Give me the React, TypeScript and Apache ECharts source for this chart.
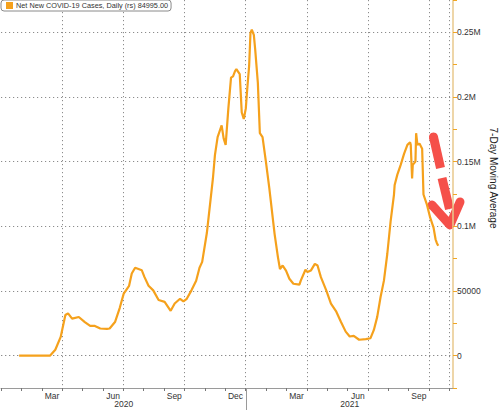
import React, { useEffect, useRef } from 'react';
import * as echarts from 'echarts';

const seriesName = 'Net New COVID-19 Cases, Daily (rs)';
const lastValueText = '84995.00';
const yAxisTitle = '7-Day Moving Average';

const dates = [
  '2020-01-28', '2020-03-14', '2020-03-22', '2020-03-30', '2020-04-06', '2020-04-10', '2020-04-16', '2020-04-26',
  '2020-05-05', '2020-05-13', '2020-05-20', '2020-05-28', '2020-06-07', '2020-06-11', '2020-06-19', '2020-06-26',
  '2020-07-02', '2020-07-10', '2020-07-14', '2020-07-19', '2020-07-29', '2020-08-02', '2020-08-08', '2020-08-15',
  '2020-08-23', '2020-09-01', '2020-09-10', '2020-09-16', '2020-09-24', '2020-09-29', '2020-10-04', '2020-10-11',
  '2020-10-18', '2020-10-23', '2020-10-27', '2020-11-03', '2020-11-12', '2020-11-15', '2020-11-19', '2020-11-25',
  '2020-11-28', '2020-12-01', '2020-12-05', '2020-12-09', '2020-12-12', '2020-12-15', '2020-12-17', '2020-12-22',
  '2020-12-25', '2020-12-28', '2020-12-31', '2021-01-02', '2021-01-05', '2021-01-07', '2021-01-09', '2021-01-12',
  '2021-01-14', '2021-01-18', '2021-01-21', '2021-01-25', '2021-01-30', '2021-02-04', '2021-02-12', '2021-02-17',
  '2021-02-20', '2021-02-24', '2021-03-01', '2021-03-06', '2021-03-12', '2021-03-21', '2021-03-23', '2021-03-30',
  '2021-04-02', '2021-04-07', '2021-04-13', '2021-04-17', '2021-04-22', '2021-04-30', '2021-05-07', '2021-05-15',
  '2021-05-22', '2021-05-29', '2021-06-04', '2021-06-10', '2021-06-18', '2021-06-28', '2021-07-05', '2021-07-10',
  '2021-07-15', '2021-07-20', '2021-07-25', '2021-07-30', '2021-08-04', '2021-08-09', '2021-08-10', '2021-08-14',
  '2021-08-19', '2021-08-24', '2021-08-29', '2021-09-02', '2021-09-03', '2021-09-05', '2021-09-06', '2021-09-10',
  '2021-09-11', '2021-09-13', '2021-09-16', '2021-09-20', '2021-09-22', '2021-09-27', '2021-10-02', '2021-10-07',
  '2021-10-10', '2021-10-12', '2021-10-14',
];

const values = [
  0, 0, 4600, 14500, 31400, 32700, 28600, 29900,
  26000, 23000, 23000, 21000, 20700, 21000, 26000, 36800,
  48000, 54000, 63500, 68000, 66000, 60700, 54000, 50500,
  43000, 41600, 34700, 40300, 44000, 42000, 44000, 50500,
  58000, 68000, 72500, 95000, 137000, 155000, 169000, 178000,
  168000, 163000, 191000, 215000, 216000, 220000, 221500, 217700,
  188000, 183000, 191000, 205000, 224000, 249600, 252000, 248000,
  237000, 211000, 172000, 169000, 150000, 130000, 94000, 76000,
  67000, 69700, 65800, 59500, 55600, 54900, 58000, 66400,
  64600, 65800, 71000, 69700, 60700, 50500, 40300, 34000,
  26000, 18600, 14800, 15300, 12300, 12800, 13500, 19900,
  30000, 45400, 58000, 78600, 104000, 124600, 132000, 140000,
  147500, 156000, 163000, 165000, 163000, 137000, 147500, 150000,
  172000, 163000, 164000, 160000, 124600, 117000, 106700, 99000,
  90000, 87000, 84995,
];

const monthCategories = [
  'Jan 2020', 'Feb 2020', 'Mar 2020', 'Apr 2020', 'May 2020', 'Jun 2020',
  'Jul 2020', 'Aug 2020', 'Sep 2020', 'Oct 2020', 'Nov 2020', 'Dec 2020',
  'Jan 2021', 'Feb 2021', 'Mar 2021', 'Apr 2021', 'May 2021', 'Jun 2021',
  'Jul 2021', 'Aug 2021', 'Sep 2021', 'Oct 2021',
];
const labelMonths = ['Mar', 'Jun', 'Sep', 'Dec'];
const gridMonths = ['Jan', 'Apr', 'Jul', 'Oct'];
const years = ['2020', '2021'];
const yearStarts = ['2020-01-01', '2021-01-01'];
const xMin = '2020-01-01';
const xMax = '2021-11-05';

const yMin = -25000;
const yMax = 275000;
const gridLow = 0;
const gridHigh = 250000;
const gridStep = 50000;
const yTickLabels: Record<string, string> = {
  '0': '0', '50000': '50000', '100000': '0.1M', '150000': '0.15M', '200000': '0.2M', '250000': '0.25M',
};

const FONT = 'Liberation Sans';
const LINE_COLOR = '#f5a11c';
const RED = '#f5504a';
const DOT = { color: '#8c8c8c', type: [1.2, 2.8], width: 1 };

function buildOption(gridTop: number, gridBottom: number): any {
  return {
    animation: false,
    backgroundColor: '#ffffff',
    textStyle: { fontFamily: FONT },
    legend: {
      data: [seriesName],
      left: 1,
      top: 0,
      padding: [2, 3, 2, 5],
      itemWidth: 7,
      itemHeight: 7,
      icon: 'rect',
      backgroundColor: '#ffffff',
      borderColor: '#8a8a8a',
      borderWidth: 1,
      borderRadius: 3,
      formatter: (name: string) => `${name} ${lastValueText}`,
      textStyle: { fontFamily: FONT, fontSize: 7.3, color: '#333', padding: [0, 0, 0, -2] },
    },
    grid: [
      { left: 1, right: 47, top: 0, bottom: 22, containLabel: false },
      { left: 1, right: 50.5, top: 0, bottom: 22, containLabel: false },
      { left: 1, right: 47, top: gridTop, bottom: gridBottom, containLabel: false },
    ],
    xAxis: [
      {
        type: 'time',
        gridIndex: 0,
        min: xMin,
        max: xMax,
        axisLine: { show: true, onZero: false, lineStyle: { color: '#9a9a9a', width: 1 } },
        axisTick: { show: false },
        axisLabel: { show: false },
        splitLine: { show: false },
      },
      {
        type: 'category',
        gridIndex: 1,
        data: monthCategories,
        boundaryGap: true,
        axisLine: { show: false, onZero: false },
        axisTick: { show: true, interval: 0, length: 3, lineStyle: { color: '#777', width: 1 } },
        axisLabel: {
          interval: (_i: number, v: string) => labelMonths.includes(v.slice(0, 3)),
          formatter: (v: string) => v.slice(0, 3),
          margin: 3,
          fontFamily: FONT,
          fontSize: 8.5,
          color: '#333',
        },
        splitLine: {
          show: true,
          interval: (i: number, v: string) => i > 0 && gridMonths.includes(v.slice(0, 3)),
          lineStyle: DOT,
        },
      },
      { type: 'value', gridIndex: 2, show: false, min: 0, max: 1 },
    ],
    yAxis: [
      {
        type: 'value',
        gridIndex: 0,
        position: 'right',
        min: yMin,
        max: yMax,
        interval: 25000,
        axisLine: { show: true, onZero: false, lineStyle: { color: '#e8c98c', width: 1.5 } },
        axisTick: { show: true, inside: false, length: 4, lineStyle: { color: '#f0a623', width: 1 } },
        axisLabel: {
          margin: 4,
          fontFamily: FONT,
          fontSize: 8.5,
          color: '#333',
          formatter: (v: number) => yTickLabels[String(v)] ?? '',
        },
        splitLine: { show: false },
      },
      { type: 'value', gridIndex: 1, show: false, min: 0, max: 1 },
      {
        type: 'value',
        gridIndex: 2,
        min: gridLow,
        max: gridHigh,
        interval: gridStep,
        axisLine: { show: false, onZero: false },
        axisTick: { show: false },
        axisLabel: { show: false },
        splitLine: { show: true, showMinLine: true, showMaxLine: true, lineStyle: DOT },
      },
    ],
    series: [
      {
        name: seriesName,
        type: 'line',
        xAxisIndex: 0,
        yAxisIndex: 0,
        showSymbol: false,
        symbol: 'none',
        z: 3,
        data: dates.map((d, i) => [d, values[i]]),
        itemStyle: { color: LINE_COLOR },
        lineStyle: { color: LINE_COLOR, width: 2.2 },
        markLine: {
          silent: true,
          z: 1,
          symbol: ['none', 'none'],
          label: { show: false },
          lineStyle: DOT,
          data: [[{ coord: [xMin, gridLow] }, { coord: [xMax, gridLow] }]],
        },
      },
    ],
  };
}

export default function App() {
  const ref = useRef<HTMLDivElement>(null);

  useEffect(() => {
    document.body.style.margin = '0';
    if (!ref.current) return;
    const chart = echarts.init(ref.current, undefined, { renderer: 'svg' });

    chart.setOption(buildOption(0, 0));
    const H = chart.getHeight();
    const yHigh = chart.convertToPixel({ yAxisIndex: 0 }, gridHigh) as number;
    const yLow = chart.convertToPixel({ yAxisIndex: 0 }, gridLow) as number;
    chart.setOption(buildOption(yHigh, H - yLow), { notMerge: true });

    const px = (d: string) => chart.convertToPixel({ xAxisIndex: 0 }, d) as number;
    const x2020 = px(yearStarts[0]);
    const x2021 = px(yearStarts[1]);
    const xEnd = px(xMax);
    const yearCenters = [(x2020 + x2021) / 2, (x2021 + xEnd) / 2];
    const axisY = chart.convertToPixel({ yAxisIndex: 0 }, yMin) as number;

    chart.setOption({
      graphic: [
        ...years.map((y, i) => ({
          type: 'text',
          x: yearCenters[i],
          y: 404,
          style: { text: y, fontFamily: FONT, fontSize: 8.5, fill: '#333', align: 'center', verticalAlign: 'middle' },
        })),
        {
          type: 'line',
          shape: { x1: Math.round(x2021) + 0.5, y1: axisY + 1, x2: Math.round(x2021) + 0.5, y2: 410 },
          style: { stroke: '#9a9a9a', lineWidth: 1 },
        },
        {
          type: 'text',
          x: 493,
          y: 178,
          rotation: -Math.PI / 2,
          style: { text: yAxisTitle, fontFamily: FONT, fontSize: 10, fill: '#222', align: 'center', verticalAlign: 'middle' },
        },
        {
          type: 'line',
          shape: { x1: 433.5, y1: 137, x2: 440.5, y2: 168 },
          style: { stroke: RED, lineWidth: 9, lineCap: 'butt' },
        },
        {
          type: 'circle',
          shape: { cx: 433.5, cy: 137, r: 4.5 },
          style: { fill: RED },
        },
        {
          type: 'line',
          shape: { x1: 442, y1: 178, x2: 449.5, y2: 209 },
          style: { stroke: RED, lineWidth: 9, lineCap: 'butt' },
        },
        {
          type: 'polyline',
          shape: { points: [[432, 205], [450, 225], [460, 202]] },
          style: { stroke: RED, fill: 'none', lineWidth: 9, lineJoin: 'round', lineCap: 'round' },
        },
      ],
    });

    return () => chart.dispose();
  }, []);

  return <div ref={ref} style={{ width: 500, height: 410 }} />;
}
